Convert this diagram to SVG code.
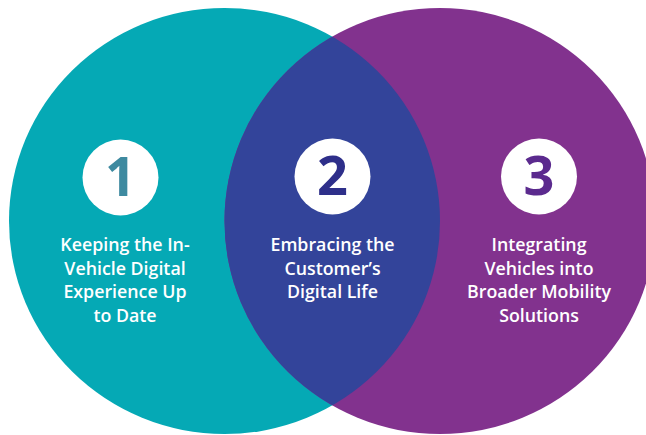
<svg xmlns="http://www.w3.org/2000/svg" width="646" height="435" viewBox="0 0 646 435">
<style>
.num{font-family:"Open Sans","Liberation Sans",sans-serif;font-weight:700;font-size:54px;text-anchor:middle}
.lbl{font-family:"Open Sans","Liberation Sans",sans-serif;font-weight:550;font-size:17.8px;fill:#ffffff;text-anchor:middle}
.badge{fill:#ffffff}
</style>
<defs>
<clipPath id="leftClip"><ellipse cx="224.5" cy="221" rx="215.5" ry="213"/></clipPath>
</defs>
<rect width="646" height="435" fill="#ffffff"/>
<g id="circle-left"><ellipse cx="224.5" cy="221" rx="215.5" ry="213" fill="#05A9B5"/></g>
<g id="circle-right"><ellipse cx="440" cy="221" rx="215.5" ry="213" fill="#82328E"/></g>
<g id="overlap"><ellipse cx="440" cy="221" rx="215.5" ry="213" fill="#33449A" clip-path="url(#leftClip)"/></g>
<g id="connectors"></g>
<g id="node1">
<circle class="badge" cx="120.5" cy="177.5" r="38"/>
<text class="num" x="120.5" y="196" fill="#3E8AA0">1</text>
<text class="lbl" x="125" y="251">Keeping the In-</text>
<text class="lbl" x="125" y="274.5">Vehicle Digital</text>
<text class="lbl" x="125" y="298">Experience Up</text>
<text class="lbl" x="125" y="321.5">to Date</text>
</g>
<g id="node2">
<circle class="badge" cx="332.5" cy="176.5" r="38"/>
<text class="num" x="332.5" y="195" fill="#2E2F8A">2</text>
<text class="lbl" x="332.5" y="251">Embracing the</text>
<text class="lbl" x="332.5" y="274.5">Customer’s</text>
<text class="lbl" x="332.5" y="298">Digital Life</text>
</g>
<g id="node3">
<circle class="badge" cx="539" cy="176.5" r="38"/>
<text class="num" x="539" y="195" fill="#5B2A8E">3</text>
<text class="lbl" x="539" y="251">Integrating</text>
<text class="lbl" x="539" y="274.5">Vehicles into</text>
<text class="lbl" x="539" y="298">Broader Mobility</text>
<text class="lbl" x="539" y="321.5">Solutions</text>
</g>
</svg>
